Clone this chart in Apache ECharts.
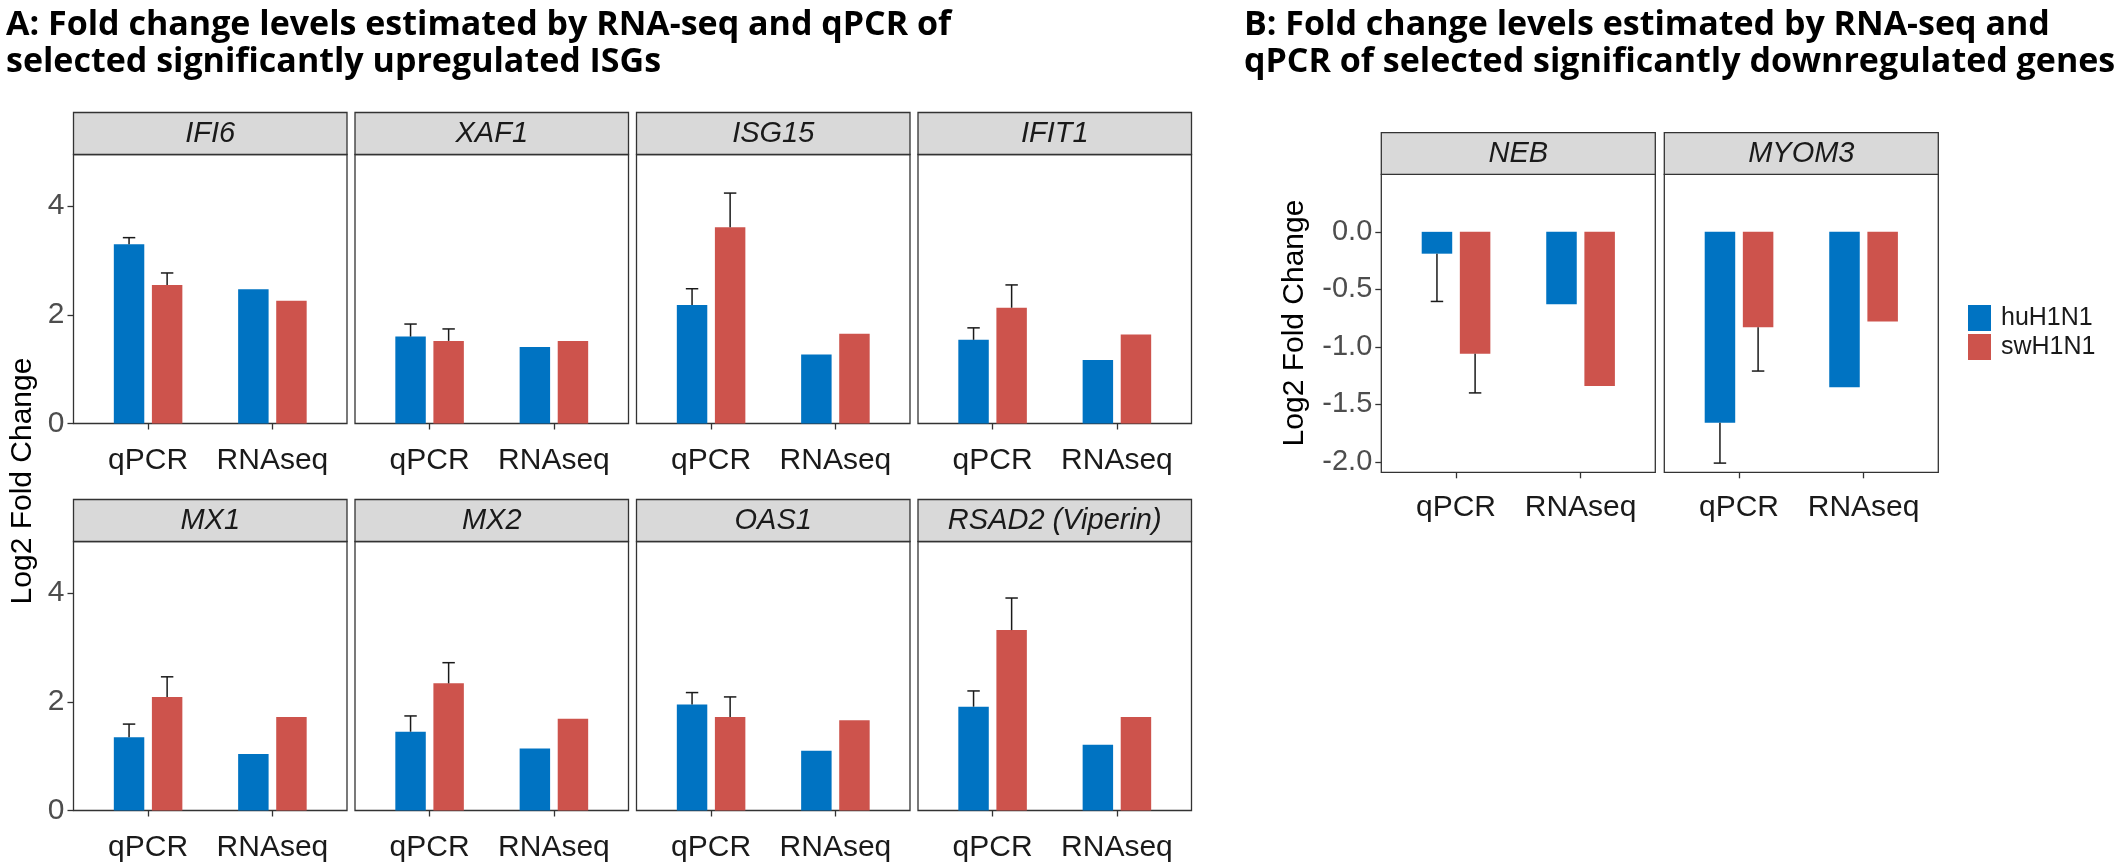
<!DOCTYPE html>
<html>
<head>
<meta charset="utf-8">
<script src="https://cdn.jsdelivr.net/npm/echarts@6/dist/echarts.min.js"></script>
<style>
html, body { margin: 0; padding: 0; background: #fff; }
#chart { width: 2124px; height: 864px; }
</style>
</head>
<body>
<div id="chart"></div>
<script>
// groups on the x axis of every panel
var groups = ['qPCR', 'RNAseq'];

// A: upregulated ISGs
var upGenes = ['IFI6', 'XAF1', 'ISG15', 'IFIT1', 'MX1', 'MX2', 'OAS1', 'RSAD2 (Viperin)'];
var upHuQpcr = [3.30, 1.60, 2.18, 1.54, 1.35, 1.45, 1.95, 1.91];
var upHuQpcrSe = [0.12, 0.23, 0.30, 0.22, 0.24, 0.29, 0.22, 0.29];
var upHuRnaseq = [2.47, 1.41, 1.27, 1.17, 1.04, 1.14, 1.10, 1.21];
var upSwQpcr = [2.55, 1.52, 3.61, 2.13, 2.09, 2.34, 1.72, 3.32];
var upSwQpcrSe = [0.22, 0.22, 0.63, 0.42, 0.37, 0.38, 0.37, 0.59];
var upSwRnaseq = [2.26, 1.52, 1.65, 1.64, 1.72, 1.69, 1.66, 1.72];
var upTicks = [0, 2, 4];

// B: downregulated genes
var downGenes = ['NEB', 'MYOM3'];
var downHuQpcr = [-0.19, -1.66];
var downHuQpcrSe = [0.415, 0.35];
var downHuRnaseq = [-0.63, -1.35];
var downSwQpcr = [-1.06, -0.83];
var downSwQpcrSe = [0.34, 0.38];
var downSwRnaseq = [-1.34, -0.78];
var downTicks = [-2, -1.5, -1, -0.5, 0];

var HU = 'huH1N1', SW = 'swH1N1';
var BLUE = '#0073C2', RED = '#CD534C';
var BAR_W = 0.245, BAR_GAP = 0.25;          // in category units / fraction of bar
var DODGE = (BAR_W + BAR_W * BAR_GAP) / 2;  // bar centre offset from the tick
var CAP = 0.1;
var FONT = 'Arial, Liberation Sans';

function titleText(x, text) {
    return { type: 'text', silent: true, x: x, y: 7,
        style: { text: text, fontFamily: 'Open Sans', fontWeight: 'bold', fontSize: 34, lineHeight: 37,
                 fill: '#000', align: 'left', verticalAlign: 'top' } };
}

var option = {
    backgroundColor: '#fff',
    animation: false,
    legend: {
        data: [HU, SW],
        orient: 'vertical',
        left: 1963, top: 300,
        itemWidth: 23, itemHeight: 26, itemGap: 3,
        icon: 'rect',
        selectedMode: false,
        textStyle: { fontFamily: FONT, fontSize: 25, color: '#1a1a1a', padding: [0, 0, 0, 5] }
    },
    grid: [], xAxis: [], yAxis: [], series: [],
    graphic: [
        titleText(6, 'A: Fold change levels estimated by RNA-seq and qPCR of\nselected significantly upregulated ISGs'),
        titleText(1244, 'B: Fold change levels estimated by RNA-seq and\nqPCR of selected significantly downregulated genes')
    ]
};

function errorSeries(idx, value, se, side) {
    return {
        type: 'custom', xAxisIndex: idx, yAxisIndex: idx, silent: true, z: 3,
        data: [[1, value, se]],
        renderItem: function (params, api) {
            var v = api.value(1);
            var end = v + (v < 0 ? -1 : 1) * api.value(2);
            var base = api.coord([api.value(0), v]);
            var tip = api.coord([api.value(0), end]);
            var x = base[0] + side * api.size([DODGE, 0])[0];
            var half = api.size([CAP / 2, 0])[0];
            var st = { stroke: '#1a1a1a', lineWidth: 1.5 };
            return { type: 'group', children: [
                { type: 'line', shape: { x1: x, y1: base[1], x2: x, y2: tip[1] }, style: st },
                { type: 'line', shape: { x1: x - half, y1: tip[1], x2: x + half, y2: tip[1] }, style: st }
            ] };
        }
    };
}

function addPanel(p) {
    var idx = option.grid.length;
    option.grid.push({ left: p.left, top: p.top, width: p.width, height: p.height,
        show: true, borderColor: '#333', borderWidth: 1.3, backgroundColor: '#fff' });
    option.xAxis.push({
        type: 'value', gridIndex: idx, min: 0.4, max: 2.6, position: 'bottom',
        axisLine: { show: false, onZero: false },
        splitLine: { show: false },
        axisTick: { show: true, customValues: [1, 2], length: 6, lineStyle: { color: '#333', width: 1.3 } },
        axisLabel: { customValues: [1, 2], margin: p.xMargin, fontFamily: FONT,
            fontSize: 30, color: '#1a1a1a', formatter: function (v) { return groups[Math.round(v) - 1]; } }
    });
    option.yAxis.push({
        type: 'value', gridIndex: idx, min: p.yMin, max: p.yMax,
        axisLine: { show: false, onZero: false },
        splitLine: { show: false },
        axisTick: { show: p.showY, customValues: p.yTicks, length: 6, lineStyle: { color: '#333', width: 1.3 } },
        axisLabel: { show: p.showY, customValues: p.yTicks, margin: 9, fontFamily: FONT,
            fontSize: p.yFont, color: '#4d4d4d',
            formatter: function (v) { return p.yDigits ? v.toFixed(p.yDigits) : String(v); } }
    });
    option.series.push(
        { name: HU, type: 'bar', xAxisIndex: idx, yAxisIndex: idx, barWidth: (BAR_W * 100) + '%',
          barGap: (BAR_GAP * 100) + '%', itemStyle: { color: BLUE }, data: [[1, p.hu[0]], [2, p.hu[1]]] },
        { name: SW, type: 'bar', xAxisIndex: idx, yAxisIndex: idx, barWidth: (BAR_W * 100) + '%',
          barGap: (BAR_GAP * 100) + '%', itemStyle: { color: RED }, data: [[1, p.sw[0]], [2, p.sw[1]]] },
        errorSeries(idx, p.hu[0], p.huSe, -1),
        errorSeries(idx, p.sw[0], p.swSe, 1)
    );
    // facet strip
    option.graphic.push(
        { type: 'rect', silent: true, z: 10,
          shape: { x: p.left, y: p.top - p.strip, width: p.width, height: p.strip },
          style: { fill: '#d9d9d9', stroke: '#333', lineWidth: 1.3 } },
        { type: 'text', silent: true, z: 11, x: p.left + p.width / 2, y: p.top - p.strip / 2,
          style: { text: p.gene, fontFamily: FONT, fontStyle: 'italic', fontSize: 29,
                   fill: '#1a1a1a', align: 'center', verticalAlign: 'middle' } }
    );
}

upGenes.forEach(function (gene, i) {
    addPanel({
        gene: gene,
        left: 73.5 + 281.5 * (i % 4), top: i < 4 ? 154.5 : 541.5, width: 273.5, height: 269, strip: 42,
        yMin: 0, yMax: 4.95, yTicks: upTicks, yDigits: 0, yFont: 30, showY: i % 4 === 0, xMargin: 22,
        hu: [upHuQpcr[i], upHuRnaseq[i]], sw: [upSwQpcr[i], upSwRnaseq[i]],
        huSe: upHuQpcrSe[i], swSe: upSwQpcrSe[i]
    });
});

downGenes.forEach(function (gene, i) {
    addPanel({
        gene: gene,
        left: 1381.3 + 283 * i, top: 174.3, width: 274, height: 298, strip: 41.6,
        yMin: -2.09, yMax: 0.5, yTicks: downTicks, yDigits: 1, yFont: 29, showY: i === 0, xMargin: 20,
        hu: [downHuQpcr[i], downHuRnaseq[i]], sw: [downSwQpcr[i], downSwRnaseq[i]],
        huSe: downHuQpcrSe[i], swSe: downSwQpcrSe[i]
    });
});

// y axis titles
option.graphic.push(
    { type: 'text', silent: true, x: 22.5, y: 481, rotation: Math.PI / 2,
      style: { text: 'Log2 Fold Change', fontFamily: FONT, fontSize: 30, fill: '#000',
               align: 'center', verticalAlign: 'middle' } },
    { type: 'text', silent: true, x: 1295, y: 323, rotation: Math.PI / 2,
      style: { text: 'Log2 Fold Change', fontFamily: FONT, fontSize: 30, fill: '#000',
               align: 'center', verticalAlign: 'middle' } }
);

var myChart = echarts.init(document.getElementById('chart'));
myChart.setOption(option);
</script>
</body>
</html>
